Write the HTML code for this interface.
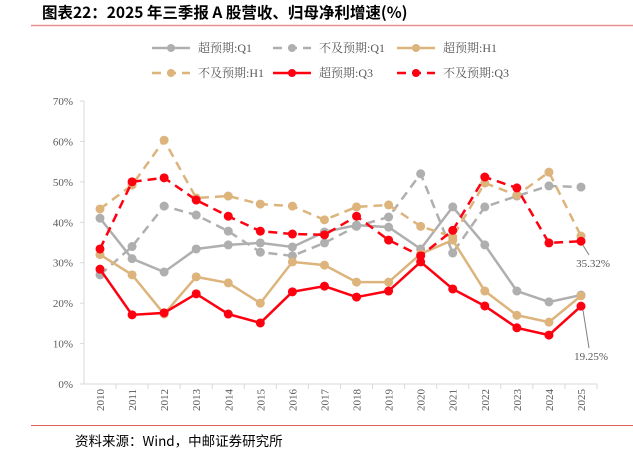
<!DOCTYPE html>
<html><head><meta charset="utf-8"><style>
body{margin:0;background:#fff;width:633px;height:456px;overflow:hidden;font-family:"Liberation Serif","Noto Serif CJK SC",serif}
</style></head><body>
<svg width="633" height="456" xmlns="http://www.w3.org/2000/svg">
<text x="42" y="18" font-size="15.5" font-weight="bold" fill="#000" font-family="WenQuanYi Zen Hei,Noto Sans CJK SC,sans-serif">图表22：2025 年三季报 A 股营收、归母净利增速(%)</text>
<line x1="31" y1="25.5" x2="633" y2="25.5" stroke="#e89090" stroke-width="1.5"/>
<line x1="31" y1="425.5" x2="633" y2="425.5" stroke="#e06060" stroke-width="1"/>
<g id="legend"></g>
<g id="axes"></g>
<g id="series"></g>
<text x="75" y="446" font-size="13.5" fill="#000" font-family="WenQuanYi Zen Hei,Noto Sans CJK SC,sans-serif">资料来源：Wind，中邮证券研究所</text>
</svg>
<script>
const years=[2010,2011,2012,2013,2014,2015,2016,2017,2018,2019,2020,2021,2022,2023,2024,2025];
const yTicks=[0,10,20,30,40,50,60,70];
const q1Beat=[41,31,27.7,33.4,34.4,34.9,33.9,37.6,39.3,38.8,33.4,43.8,34.4,23,20.3,22];
const q1Miss=[27,34,44,41.8,37.8,32.6,31.7,34.9,39,41.3,52,32.4,43.8,46.5,49,48.7];
const h1Beat=[32,27,17.3,26.5,25,20,30.2,29.4,25.2,25.2,32.2,35.6,23,17,15.3,21.8];
const h1Miss=[43.3,49.2,60.3,46,46.5,44.5,44,40.6,43.8,44.3,39,36.4,49.7,46.7,52.4,36.6];
const q3Beat=[28.4,17.1,17.6,22.3,17.3,15.1,22.8,24.2,21.5,23,30.2,23.5,19.3,13.9,12.1,19.25];
const q3Miss=[33.4,50,51,45.5,41.5,37.8,37.1,36.9,41.5,35.6,31.7,38,51.2,48.5,34.9,35.32];
const NS="http://www.w3.org/2000/svg";
const X=i=>100+i*(481/(years.length-1));
const Y=v=>384-v*(283/70);
function mk(t,a,p){const e=document.createElementNS(NS,t);for(const k in a)e.setAttribute(k,a[k]);p.appendChild(e);return e;}
const ax=document.getElementById('axes');
let l=mk('line',{x1:84,y1:Y(70),x2:84,y2:384,stroke:'#d9d9d9'},ax);


l=mk('line',{x1:84,y1:384,x2:597,y2:384,stroke:'#d9d9d9'},ax);


yTicks.forEach(v=>{const t=mk('text',{x:73,y:Y(v)+4,'font-size':11,'text-anchor':'end',fill:'#595959'},ax);t.textContent=v+'%';


mk('line',{x1:80,y1:Y(v),x2:84,y2:Y(v),stroke:'#d9d9d9'},ax);});
years.forEach((y,i)=>{const t=mk('text',{x:0,y:0,'font-size':11,'text-anchor':'end',fill:'#595959',transform:`translate(${X(i)+4},${389}) rotate(-90)`},ax);t.textContent=y;


mk('line',{x1:X(i)+16,y1:384,x2:X(i)+16,y2:389,stroke:'#d9d9d9'},ax);});
const series=[[q1Beat,'#afafaf',false,'q1-beat'],[q1Miss,'#afafaf',true,'q1-miss'],[h1Beat,'#dcb47c',false,'h1-beat'],[h1Miss,'#dcb47c',true,'h1-miss'],[q3Beat,'#ff0010',false,'q3-beat'],[q3Miss,'#ff0010',true,'q3-miss']];
const sg=document.getElementById('series');
series.forEach(([d,c,dash,n])=>{const g=mk('g',{},sg);


mk('polyline',{points:d.map((v,i)=>X(i)+','+Y(v)).join(' '),fill:'none',stroke:c,'stroke-width':2.5,'stroke-dasharray':dash?'9,6':'none'},g);
d.forEach((v,i)=>{const ci=mk('circle',{cx:X(i),cy:Y(v),r:4.5,fill:c},g);

});});
const ann=[[q3Miss,'35.32%',610,267],[q3Beat,'19.25%',608,360]];
ann.forEach(([d,txt,tx,ty])=>{const i=d.length-1;mk('line',{x1:X(i)+2,y1:Y(d[i])+4,x2:X(i)+8,y2:ty-12,stroke:'#7f7f7f'},sg);
const t=mk('text',{x:tx,y:ty,'font-size':11,'text-anchor':'end',fill:'#595959'},sg);t.textContent=txt;

});
const lg=document.getElementById('legend');
const labels=['超预期:Q1','不及预期:Q1','超预期:H1','不及预期:H1','超预期:Q3','不及预期:Q3'];
const lx=[152,273,397];
series.forEach(([d,c,dash,n],k)=>{const x=lx[k%3],y=k<3?48:73;const g=mk('g',{},lg);


mk('line',{x1:x,y1:y,x2:x+38,y2:y,stroke:c,'stroke-width':2.5,'stroke-dasharray':dash?'9,6':'none'},g);
mk('circle',{cx:x+19,cy:y,r:4,fill:c},g);
const t=mk('text',{x:x+46,y:y+4,'font-size':12,fill:'#595959'},g);t.textContent=labels[k];});
</script>
</body></html>
